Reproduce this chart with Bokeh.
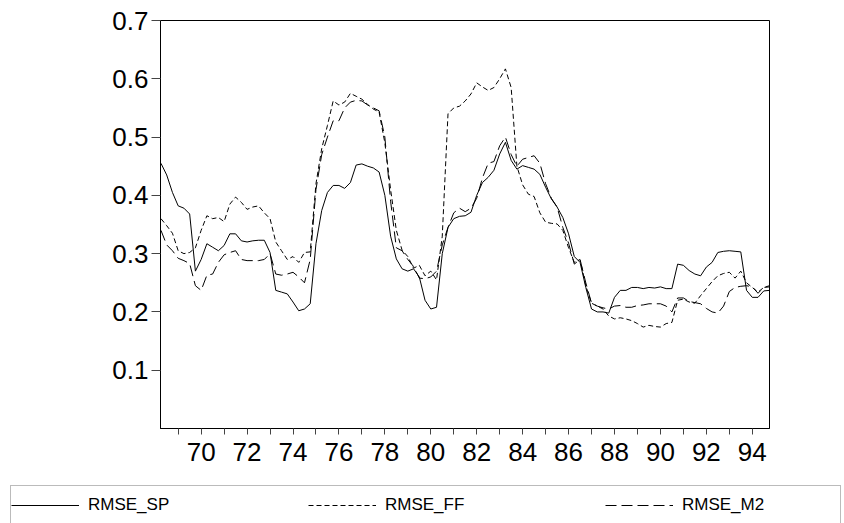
from bokeh.plotting import figure
from bokeh.layouts import column, row
from bokeh.models import Range1d, FixedTicker, CustomJSTickFormatter, Legend, LegendItem
from bokeh.embed import file_html
from bokeh.resources import INLINE

# quarterly time index, 1968Q2 .. 1994Q4 (two-digit years)
years = [68.25 + 0.25 * i for i in range(107)]

rmse_sp = [
    0.455, 0.435, 0.405,
    0.382, 0.378, 0.368, 0.270,
    0.290, 0.317, 0.311, 0.305,
    0.314, 0.334, 0.334, 0.322,
    0.320, 0.322, 0.323, 0.323,
    0.302, 0.237, 0.234, 0.231,
    0.217, 0.202, 0.205, 0.214,
    0.317, 0.374, 0.405, 0.417,
    0.417, 0.412, 0.422, 0.452,
    0.454, 0.450, 0.447, 0.440,
    0.400, 0.330, 0.291, 0.274,
    0.270, 0.274, 0.260, 0.220,
    0.205, 0.208, 0.300, 0.345,
    0.360, 0.364, 0.365, 0.371,
    0.400, 0.422, 0.431, 0.443,
    0.471, 0.491, 0.460, 0.445,
    0.451, 0.448, 0.445, 0.436,
    0.414, 0.394, 0.380, 0.362,
    0.334, 0.295, 0.285, 0.242,
    0.205, 0.200, 0.200, 0.198,
    0.225, 0.237, 0.237, 0.242,
    0.242, 0.240, 0.242, 0.241,
    0.243, 0.240, 0.240, 0.282,
    0.280, 0.271, 0.265, 0.262,
    0.277, 0.285, 0.302, 0.304,
    0.305, 0.304, 0.303, 0.237,
    0.225, 0.225, 0.236, 0.237,
]

rmse_ff = [
    0.360, 0.348, 0.335,
    0.305, 0.300, 0.302, 0.310,
    0.340, 0.365, 0.360, 0.362,
    0.355, 0.385, 0.397, 0.388,
    0.376, 0.380, 0.382, 0.370,
    0.360, 0.320, 0.305, 0.290,
    0.295, 0.285, 0.302, 0.303,
    0.420, 0.480, 0.520, 0.562,
    0.555, 0.560, 0.575, 0.570,
    0.565, 0.556, 0.548, 0.543,
    0.490, 0.410, 0.340, 0.306,
    0.295, 0.275, 0.280, 0.262,
    0.270, 0.255, 0.330, 0.540,
    0.550, 0.553, 0.562, 0.574,
    0.593, 0.586, 0.580, 0.585,
    0.600, 0.617, 0.585, 0.450,
    0.418, 0.402, 0.398, 0.370,
    0.354, 0.352, 0.351, 0.340,
    0.310, 0.285, 0.290, 0.245,
    0.215, 0.210, 0.205, 0.193,
    0.188, 0.190, 0.188, 0.185,
    0.180, 0.174, 0.177, 0.175,
    0.174, 0.180, 0.182, 0.220,
    0.222, 0.217, 0.215, 0.228,
    0.240, 0.252, 0.262, 0.266,
    0.268, 0.258, 0.270, 0.250,
    0.242, 0.234, 0.242, 0.245,
]

rmse_m2 = [
    0.340, 0.315, 0.305,
    0.292, 0.288, 0.283, 0.245,
    0.237, 0.263, 0.265, 0.285,
    0.298, 0.302, 0.305, 0.290,
    0.288, 0.288, 0.288, 0.290,
    0.300, 0.265, 0.263, 0.265,
    0.268, 0.260, 0.250, 0.290,
    0.410, 0.470, 0.500, 0.528,
    0.528, 0.550, 0.560, 0.563,
    0.562, 0.555, 0.550, 0.545,
    0.500, 0.390, 0.310, 0.305,
    0.290, 0.278, 0.258, 0.257,
    0.260, 0.270, 0.315, 0.345,
    0.370, 0.378, 0.372, 0.378,
    0.395, 0.430, 0.455, 0.458,
    0.485, 0.500, 0.470, 0.450,
    0.462, 0.465, 0.468, 0.455,
    0.420, 0.395, 0.380, 0.345,
    0.318, 0.282, 0.290, 0.250,
    0.215, 0.210, 0.207, 0.205,
    0.210, 0.211, 0.208, 0.208,
    0.211, 0.212, 0.214, 0.214,
    0.214, 0.210, 0.200, 0.224,
    0.224, 0.218, 0.216, 0.214,
    0.206, 0.200, 0.198, 0.210,
    0.235, 0.242, 0.244, 0.245,
    0.243, 0.232, 0.242, 0.243,
]

x_ticks = list(range(69, 95))
y_ticks = [0.1, 0.2, 0.3, 0.4, 0.5, 0.6, 0.7]
series_names = ["RMSE_SP", "RMSE_FF", "RMSE_M2"]

FONT = "Liberation Sans"
DASH_FF = "5 3"
DASH_M2 = "11 5"

p = figure(width=844, height=480, output_backend="svg", toolbar_location=None,
           x_range=Range1d(68.23, 94.75), y_range=Range1d(0, 0.7),
           min_border_left=160, min_border_right=75, min_border_top=20,
           min_border_bottom=52, background_fill_color="white",
           border_fill_color="white")

p.outline_line_color = "black"
p.outline_line_width = 1
p.xgrid.visible = False
p.ygrid.visible = False

# x axis
p.xaxis.ticker = FixedTicker(ticks=x_ticks)
p.xaxis.formatter = CustomJSTickFormatter(
    code="var t = Math.round(tick); return (t % 2 == 0) ? String(t) : '';")
p.xaxis.major_tick_in = 0
p.xaxis.major_tick_out = 6
p.xaxis.minor_tick_out = 0
p.xaxis.minor_tick_in = 0
p.xaxis.major_tick_line_color = "#444444"
p.xaxis.axis_line_color = "black"
p.xaxis.major_label_text_font = FONT
p.xaxis.major_label_text_font_size = "26px"
p.xaxis.major_label_text_color = "black"
p.xaxis.major_label_standoff = 8

# y axis
p.yaxis.ticker = FixedTicker(ticks=y_ticks)
p.yaxis.major_tick_in = 0
p.yaxis.major_tick_out = 9
p.yaxis.minor_tick_out = 0
p.yaxis.minor_tick_in = 0
p.yaxis.major_tick_line_color = "#444444"
p.yaxis.axis_line_color = "black"
p.yaxis.major_label_text_font = FONT
p.yaxis.major_label_text_font_size = "26px"
p.yaxis.major_label_text_color = "black"
p.yaxis.major_label_standoff = 3

p.line(years, rmse_sp, line_color="black", line_width=1)
p.line(years, rmse_ff, line_color="black", line_width=1, line_dash=DASH_FF)
p.line(years, rmse_m2, line_color="black", line_width=1, line_dash=DASH_M2)

# legend strip below the chart: the same series, kept out of this strip's view
q = figure(width=844, height=43, output_backend="svg", toolbar_location=None,
           x_range=Range1d(0, 1), y_range=Range1d(0, 1),
           min_border=0, min_border_left=0, min_border_right=0,
           min_border_top=0, min_border_bottom=0,
           x_axis_location=None, y_axis_location=None,
           outline_line_color=None, background_fill_color="white",
           border_fill_color="white")
q.xgrid.visible = False
q.ygrid.visible = False
k_sp = q.line(years, rmse_sp, line_color="black", line_width=1)
k_ff = q.line(years, rmse_ff, line_color="black", line_width=1, line_dash=DASH_FF)
k_m2 = q.line(years, rmse_m2, line_color="black", line_width=1, line_dash=DASH_M2)

legend = Legend(
    items=[LegendItem(label=series_names[0], renderers=[k_sp]),
           LegendItem(label=series_names[1], renderers=[k_ff]),
           LegendItem(label=series_names[2], renderers=[k_m2])],
    orientation="horizontal",
    location=(10, -2),
    padding=0, spacing=62, margin=0,
    glyph_width=68, glyph_height=38, label_height=38, label_width=158,
    label_standoff=9,
    label_text_font=FONT, label_text_font_size="17px", label_text_color="black",
    border_line_color="#777777", border_line_width=1,
    background_fill_color="white", background_fill_alpha=1.0,
)
q.add_layout(legend, "center")

layout = column(p, row(q), spacing=0)
open("out.html", "w").write(file_html(layout, INLINE))
